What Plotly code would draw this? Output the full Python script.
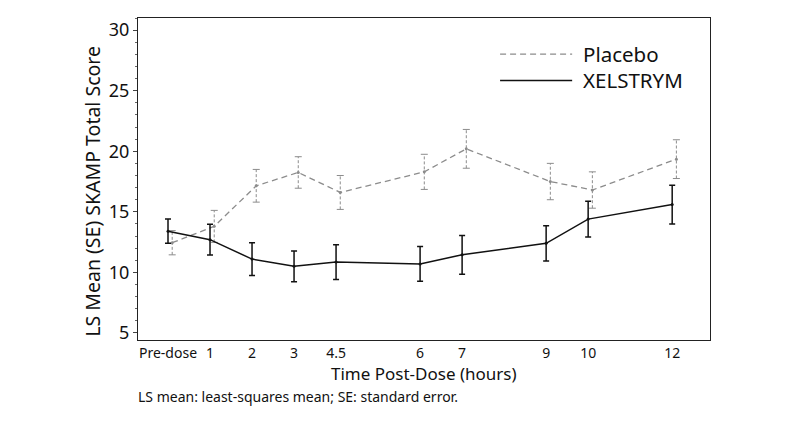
import plotly.graph_objects as go

# time points (plot slot) and their labels
x_labels = ["Pre-dose", "1", "2", "3", "4.5", "6", "7", "9", "10", "12"]
x_slots = [0, 1, 2, 3, 4, 6, 7, 9, 10, 12]

# LS mean and SE
xel_mean = [13.4, 12.7, 11.1, 10.5, 10.85, 10.7, 11.45, 12.4, 14.4, 15.6]
xel_se = [1.0, 1.27, 1.35, 1.27, 1.43, 1.43, 1.6, 1.45, 1.47, 1.6]
pbo_mean = [12.45, 13.8, 17.15, 18.25, 16.6, 18.3, 20.2, 17.5, 16.8, 19.35]
pbo_se = [1.0, 1.32, 1.35, 1.3, 1.4, 1.45, 1.6, 1.5, 1.5, 1.6]

FONT = "Noto Sans"
GREY = "#8c8c8c"
DODGE = 0.1  # placebo drawn slightly to the right

pbo_x = [s + DODGE for s in x_slots]

fig = go.Figure()

# placebo dashed error bars
ex, ey = [], []
for x, m, se in zip(pbo_x, pbo_mean, pbo_se):
    ex += [x, x, None]
    ey += [m - se, m + se, None]
fig.add_trace(go.Scatter(x=ex, y=ey, mode="lines", hoverinfo="skip",
                         line=dict(color=GREY, width=1, dash="3px,2px"),
                         showlegend=False))
fig.add_trace(go.Scatter(
    x=pbo_x + pbo_x,
    y=[m + s for m, s in zip(pbo_mean, pbo_se)] + [m - s for m, s in zip(pbo_mean, pbo_se)],
    mode="markers", marker=dict(symbol="line-ew-open", size=5, color=GREY,
                                line=dict(width=1, color=GREY)),
    showlegend=False, hoverinfo="skip"))

fig.add_trace(go.Scatter(
    x=pbo_x, y=pbo_mean, mode="lines+markers", name="Placebo",
    line=dict(color=GREY, width=1.3, dash="6px,4px"),
    marker=dict(size=3, color=GREY), showlegend=False))

fig.add_trace(go.Scatter(
    x=x_slots, y=xel_mean, mode="lines+markers", name="XELSTRYM",
    line=dict(color="#111111", width=1.5),
    marker=dict(size=3, color="#111111"),
    error_y=dict(type="data", array=xel_se, color="#111111", thickness=1.5, width=3),
    showlegend=False))

# page body adds an 8px offset, margins allow for it
fig.update_layout(
    width=800, height=427,
    margin=dict(l=130, r=98, t=10, b=95),
    paper_bgcolor="white", plot_bgcolor="white",
    font=dict(family=FONT, color="#111111"),
    xaxis=dict(
        range=[-0.714, 12.9], tickmode="array", tickvals=x_slots, ticktext=x_labels,
        showgrid=False, zeroline=False, showline=True, mirror=True,
        linecolor="#222222", linewidth=1, ticks="", automargin=False,
        tickfont=dict(size=14, family=FONT),
    ),
    yaxis=dict(
        range=[4.42, 31.0], tickvals=[5, 10, 15, 20, 25, 30],
        showgrid=False, zeroline=False, showline=True, mirror=True,
        linecolor="#222222", linewidth=1, ticks="outside", ticklen=4, automargin=False,
        minor=dict(dtick=1, ticks="outside", ticklen=2, tickcolor="#666666"),
        tickfont=dict(size=18, family=FONT),
    ),
)

# axis titles placed as annotations
fig.add_annotation(xref="paper", yref="paper", x=0.5, y=-0.103,
                   text="Time Post-Dose (hours)", showarrow=False,
                   xanchor="center", yanchor="middle",
                   font=dict(size=17, family=FONT))
fig.add_annotation(xref="paper", yref="paper", x=-0.079, y=0.463,
                   text="LS Mean (SE) SKAMP Total Score", showarrow=False,
                   textangle=-90, xanchor="center", yanchor="middle",
                   font=dict(size=19.5, family=FONT))

# legend drawn by hand so the key lines match the original length
fig.add_shape(type="line", xref="paper", yref="paper", x0=0.633, x1=0.759, y0=0.888, y1=0.888,
              line=dict(color=GREY, width=1.3, dash="6px,4px"))
fig.add_shape(type="line", xref="paper", yref="paper", x0=0.633, x1=0.759, y0=0.806, y1=0.806,
              line=dict(color="#111111", width=1.5))
fig.add_annotation(xref="paper", yref="paper", x=0.774, y=0.888, text="Placebo",
                   showarrow=False, xanchor="left", yanchor="middle",
                   font=dict(size=20.5, family=FONT))
fig.add_annotation(xref="paper", yref="paper", x=0.774, y=0.806, text="XELSTRYM",
                   showarrow=False, xanchor="left", yanchor="middle",
                   font=dict(size=20.5, family=FONT))

fig.add_annotation(xref="paper", yref="paper", x=-0.003, y=-0.176,
                   text="LS mean: least-squares mean; SE: standard error.",
                   showarrow=False, xanchor="left", yanchor="middle",
                   font=dict(size=14, family=FONT))

fig.write_html("out.html")
